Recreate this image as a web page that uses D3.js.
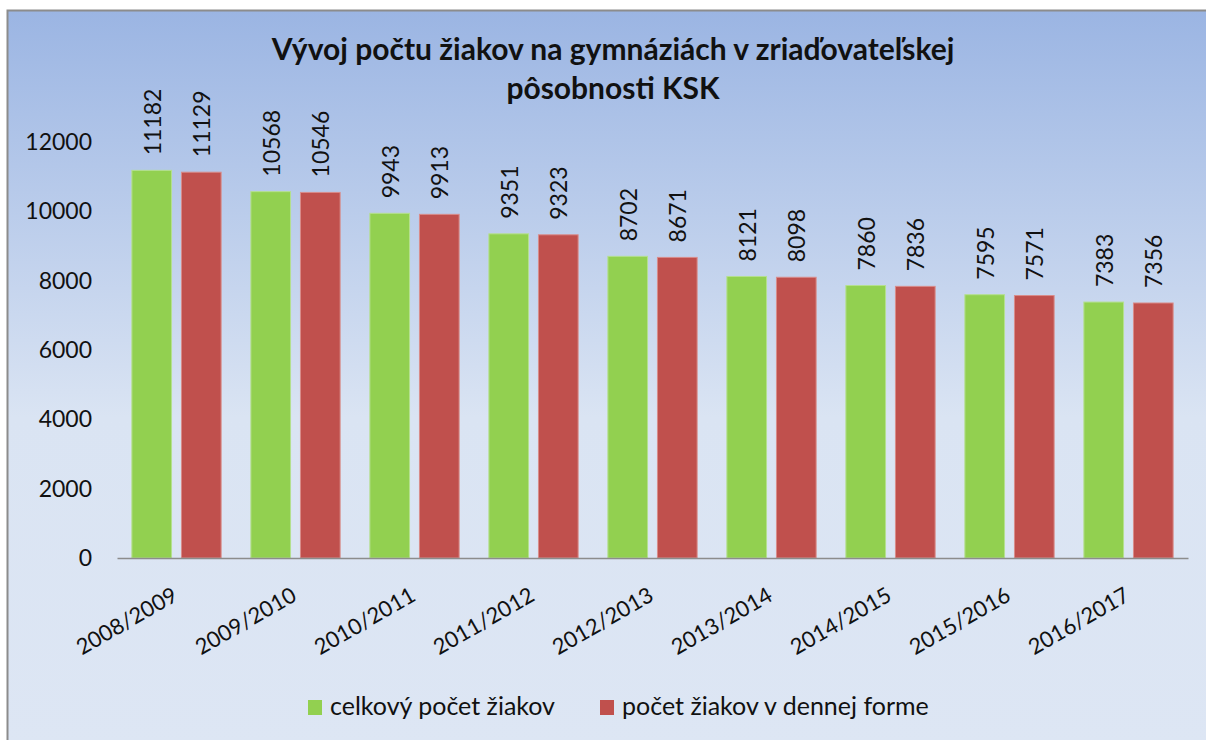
<!DOCTYPE html>
<html>
<head>
<meta charset="utf-8">
<script src="https://cdn.jsdelivr.net/npm/d3@7"></script>
<style>
  body { margin: 0; background: #fff; }
  text { font-family: "Lato", "Open Sans", sans-serif; fill: #111; }
</style>
</head>
<body>
<div id="chart"></div>
<script>
// data
var years = ["2008/2009", "2009/2010", "2010/2011", "2011/2012", "2012/2013",
             "2013/2014", "2014/2015", "2015/2016", "2016/2017"];
var celkovy = [11182, 10568, 9943, 9351, 8702, 8121, 7860, 7595, 7383];
var denna = [11129, 10546, 9913, 9323, 8671, 8098, 7836, 7571, 7356];
var seriesNames = ["celkový počet žiakov", "počet žiakov v dennej forme"];
var seriesColors = ["#92d050", "#c0504d"];
var yTicks = [0, 2000, 4000, 6000, 8000, 10000, 12000];

var width = 1206, height = 740;
var margin = {top: 142, right: 18, bottom: 182, left: 117};

var svg = d3.select("#chart").append("svg")
    .attr("width", width)
    .attr("height", height);

// background gradient
var defs = svg.append("defs");
var grad = defs.append("linearGradient")
    .attr("id", "bg")
    .attr("x1", 0).attr("y1", 0).attr("x2", 0).attr("y2", 1);
grad.append("stop").attr("offset", "0%").attr("stop-color", "#9bb5e3");
grad.append("stop").attr("offset", "55%").attr("stop-color", "#dae4f3");
grad.append("stop").attr("offset", "100%").attr("stop-color", "#dde6f4");

svg.append("rect")
    .attr("x", 7.5).attr("y", 10.5)
    .attr("width", width).attr("height", height)
    .attr("fill", "url(#bg)")
    .attr("stroke", "#8c8c8c")
    .attr("stroke-width", 2);

// title
var title = svg.append("text")
    .attr("x", 613)
    .attr("text-anchor", "middle")
    .style("font-weight", "bold")
    .style("font-size", "30px");
title.append("tspan").attr("x", 613).attr("y", 60).text("Vývoj počtu žiakov na gymnáziách v zriaďovateľskej");
title.append("tspan").attr("x", 613).attr("y", 99).text("pôsobnosti KSK");

var plotW = width - margin.left - margin.right;
var plotH = height - margin.top - margin.bottom;

var g = svg.append("g")
    .attr("transform", "translate(" + margin.left + "," + margin.top + ")");

var x = d3.scaleBand().domain(years).range([0, plotW]);
var xInner = d3.scaleBand().domain([0, 1]).range([0, x.bandwidth()])
    .paddingInner(0.2).paddingOuter(0.3);
var y = d3.scaleLinear().domain([0, 12000]).range([plotH, 0]);

// y axis labels (no axis line)
var yAxis = g.append("g")
    .call(d3.axisLeft(y).tickValues(yTicks).tickSize(0).tickPadding(25).tickFormat(d3.format("d")));
yAxis.select(".domain").remove();
yAxis.selectAll("text")
    .style("font-size", "23px")
    .style("font-family", "Lato, sans-serif")
    .attr("fill", "#111");

// bars
var rows = [];
for (var i = 0; i < years.length; i++) {
    rows.push({year: years[i], s: 0, v: celkovy[i]});
    rows.push({year: years[i], s: 1, v: denna[i]});
}

g.selectAll("rect.bar")
    .data(rows)
    .enter().append("rect")
    .attr("class", "bar")
    .attr("x", function(d) { return x(d.year) + xInner(d.s); })
    .attr("y", function(d) { return y(d.v); })
    .attr("width", xInner.bandwidth())
    .attr("height", function(d) { return plotH - y(d.v); })
    .attr("fill", function(d) { return seriesColors[d.s]; })
    .attr("stroke", function(d) { return d.s == 0 ? "#b5e08f" : "#d98c8a"; })
    .attr("stroke-width", 1);

// value labels, rotated
g.selectAll("text.val")
    .data(rows)
    .enter().append("text")
    .attr("class", "val")
    .attr("transform", function(d) {
        var cx = x(d.year) + xInner(d.s) + xInner.bandwidth() / 2;
        return "translate(" + (cx + 9) + "," + (y(d.v) - 15) + ") rotate(-90)";
    })
    .style("font-size", "23px")
    .text(function(d) { return d.v; });

// x axis
var xAxis = g.append("g")
    .attr("transform", "translate(0," + plotH + ")")
    .call(d3.axisBottom(x).tickSize(0).tickSizeOuter(0));
xAxis.select(".domain").attr("stroke", "#8c8c8c").attr("stroke-width", 1.5);
xAxis.selectAll("text")
    .style("font-size", "22px")
    .style("font-family", "Lato, sans-serif")
    .attr("fill", "#111")
    .attr("text-anchor", "end")
    .attr("dy", 0)
    .attr("transform", "translate(1,39) rotate(-30)");

// legend
var legend = svg.append("g").attr("transform", "translate(308,715)");
var lx = [0, 292];
seriesNames.forEach(function(name, i) {
    var item = legend.append("g").attr("transform", "translate(" + lx[i] + ",0)");
    item.append("rect")
        .attr("x", 0).attr("y", -15)
        .attr("width", 14).attr("height", 15)
        .attr("fill", seriesColors[i]);
    item.append("text")
        .attr("x", 22).attr("y", 0)
        .style("font-size", "25px")
        .text(name);
});
</script>
</body>
</html>
